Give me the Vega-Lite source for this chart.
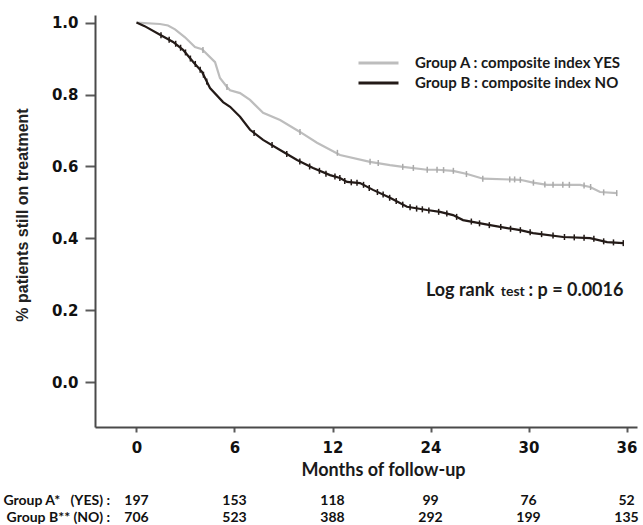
{
  "$schema": "https://vega.github.io/schema/vega-lite/v6.json",
  "width": 542,
  "height": 412,
  "autosize": {"type": "none"},
  "padding": {"left": 95, "top": 15, "right": 6, "bottom": 98},
  "background": "white",
  "config": {"view": {"stroke": null}},
  "datasets": {
    "curves": [
      {"g":"A","m":0,"s":1.0},{"g":"A","m":1.44,"s":0.996},{"g":"A","m":1.93,"s":0.992},{"g":"A","m":2.36,"s":0.981},{"g":"A","m":2.97,"s":0.959},{"g":"A","m":3.58,"s":0.932},{"g":"A","m":4.01,"s":0.926},{"g":"A","m":4.81,"s":0.89},{"g":"A","m":5.11,"s":0.846},{"g":"A","m":5.54,"s":0.821},{"g":"A","m":5.73,"s":0.812},{"g":"A","m":6.34,"s":0.804},{"g":"A","m":6.95,"s":0.785},{"g":"A","m":7.75,"s":0.749},{"g":"A","m":8.79,"s":0.729},{"g":"A","m":10.01,"s":0.696},{"g":"A","m":11.05,"s":0.666},{"g":"A","m":12.92,"s":0.632},{"g":"A","m":16.59,"s":0.613},{"g":"A","m":19.04,"s":0.604},{"g":"A","m":20.63,"s":0.599},{"g":"A","m":23.57,"s":0.591},{"g":"A","m":24.4,"s":0.591},{"g":"A","m":25.38,"s":0.588},{"g":"A","m":26.24,"s":0.579},{"g":"A","m":27.22,"s":0.566},{"g":"A","m":29.49,"s":0.563},{"g":"A","m":30.28,"s":0.555},{"g":"A","m":31.14,"s":0.549},{"g":"A","m":33.16,"s":0.549},{"g":"A","m":33.77,"s":0.543},{"g":"A","m":34.38,"s":0.529},{"g":"A","m":35.42,"s":0.526},
      {"g":"B","m":0,"s":1.0},{"g":"B","m":0.5,"s":0.99},{"g":"B","m":1.44,"s":0.966},{"g":"B","m":2.24,"s":0.946},{"g":"B","m":2.85,"s":0.924},{"g":"B","m":3.46,"s":0.891},{"g":"B","m":4.01,"s":0.863},{"g":"B","m":4.5,"s":0.818},{"g":"B","m":5.3,"s":0.779},{"g":"B","m":5.73,"s":0.766},{"g":"B","m":6.34,"s":0.738},{"g":"B","m":6.95,"s":0.702},{"g":"B","m":7.75,"s":0.674},{"g":"B","m":8.79,"s":0.646},{"g":"B","m":9.83,"s":0.618},{"g":"B","m":10.81,"s":0.596},{"g":"B","m":11.85,"s":0.576},{"g":"B","m":12.92,"s":0.568},{"g":"B","m":13.78,"s":0.557},{"g":"B","m":15.37,"s":0.554},{"g":"B","m":16.96,"s":0.535},{"g":"B","m":19.04,"s":0.513},{"g":"B","m":21.12,"s":0.488},{"g":"B","m":23.57,"s":0.479},{"g":"B","m":24.58,"s":0.474},{"g":"B","m":25.38,"s":0.465},{"g":"B","m":25.99,"s":0.451},{"g":"B","m":27.65,"s":0.437},{"g":"B","m":28.26,"s":0.432},{"g":"B","m":29.49,"s":0.423},{"g":"B","m":30.28,"s":0.415},{"g":"B","m":32.12,"s":0.404},{"g":"B","m":33.77,"s":0.401},{"g":"B","m":34.81,"s":0.39},{"g":"B","m":35.79,"s":0.387}
    ],
    "censor": [
      {"g":"A","m":4.07,"s":0.924},{"g":"A","m":5.54,"s":0.821},{"g":"A","m":10.01,"s":0.696},{"g":"A","m":12.6,"s":0.638},{"g":"A","m":16.6,"s":0.613},{"g":"A","m":17.6,"s":0.61},{"g":"A","m":20.6,"s":0.599},{"g":"A","m":21.9,"s":0.596},{"g":"A","m":23.6,"s":0.591},{"g":"A","m":24.4,"s":0.591},{"g":"A","m":24.8,"s":0.59},{"g":"A","m":25.4,"s":0.588},{"g":"A","m":26.2,"s":0.579},{"g":"A","m":27.2,"s":0.566},{"g":"A","m":28.85,"s":0.564},{"g":"A","m":29.15,"s":0.564},{"g":"A","m":29.5,"s":0.563},{"g":"A","m":30.3,"s":0.555},{"g":"A","m":31.0,"s":0.55},{"g":"A","m":31.5,"s":0.549},{"g":"A","m":32.1,"s":0.549},{"g":"A","m":32.5,"s":0.549},{"g":"A","m":33.4,"s":0.547},{"g":"A","m":33.8,"s":0.543},{"g":"A","m":34.6,"s":0.528},{"g":"A","m":35.4,"s":0.526},
      {"g":"B","m":1.5,"s":0.965},{"g":"B","m":2.0,"s":0.952},{"g":"B","m":2.4,"s":0.941},{"g":"B","m":2.7,"s":0.93},{"g":"B","m":3.0,"s":0.917},{"g":"B","m":3.3,"s":0.9},{"g":"B","m":3.6,"s":0.885},{"g":"B","m":3.9,"s":0.869},{"g":"B","m":4.1,"s":0.855},{"g":"B","m":4.3,"s":0.836},{"g":"B","m":7.2,"s":0.693},{"g":"B","m":8.3,"s":0.66},{"g":"B","m":9.2,"s":0.635},{"g":"B","m":10.0,"s":0.614},{"g":"B","m":10.6,"s":0.6},{"g":"B","m":11.2,"s":0.588},{"g":"B","m":11.6,"s":0.58},{"g":"B","m":12.3,"s":0.572},{"g":"B","m":12.9,"s":0.568},{"g":"B","m":13.5,"s":0.56},{"g":"B","m":14.3,"s":0.556},{"g":"B","m":15.0,"s":0.555},{"g":"B","m":15.8,"s":0.549},{"g":"B","m":16.5,"s":0.54},{"g":"B","m":17.5,"s":0.529},{"g":"B","m":18.2,"s":0.522},{"g":"B","m":19.0,"s":0.513},{"g":"B","m":19.8,"s":0.504},{"g":"B","m":20.6,"s":0.494},{"g":"B","m":21.5,"s":0.487},{"g":"B","m":22.3,"s":0.483},{"g":"B","m":23.0,"s":0.481},{"g":"B","m":23.8,"s":0.478},{"g":"B","m":24.5,"s":0.474},{"g":"B","m":25.0,"s":0.469},{"g":"B","m":25.6,"s":0.46},{"g":"B","m":26.5,"s":0.447},{"g":"B","m":27.0,"s":0.442},{"g":"B","m":27.6,"s":0.437},{"g":"B","m":28.3,"s":0.432},{"g":"B","m":28.9,"s":0.427},{"g":"B","m":29.5,"s":0.423},{"g":"B","m":30.1,"s":0.417},{"g":"B","m":30.8,"s":0.412},{"g":"B","m":31.5,"s":0.408},{"g":"B","m":32.2,"s":0.404},{"g":"B","m":32.8,"s":0.403},{"g":"B","m":33.4,"s":0.402},{"g":"B","m":34.0,"s":0.399},{"g":"B","m":34.6,"s":0.392},{"g":"B","m":35.2,"s":0.389},{"g":"B","m":35.8,"s":0.387}
    ],
    "risk": [
      {"g":"A","m":0,"n":197},{"g":"A","m":6,"n":153},{"g":"A","m":12,"n":118},{"g":"A","m":24,"n":99},{"g":"A","m":30,"n":76},{"g":"A","m":36,"n":52},
      {"g":"B","m":0,"n":706},{"g":"B","m":6,"n":523},{"g":"B","m":12,"n":388},{"g":"B","m":24,"n":292},{"g":"B","m":30,"n":199},{"g":"B","m":36,"n":135}
    ],
    "rowlabels": [
      {"g":"A","label":"Group A*\u00a0\u00a0\u00a0(YES) :"},
      {"g":"B","label":"Group B**\u00a0(NO) :"}
    ]
  },
  "layer": [
    {
      "layer": [
        {
          "data": {"name": "curves"},
          "mark": {"type": "line", "strokeWidth": 2.2, "interpolate": "linear"},
          "encoding": {
            "x": {"field": "m", "type": "quantitative",
              "scale": {"domain": [-2.54, 12, 24, 36.64], "range": [0, 237.5, 335.5, 542], "nice": false, "zero": false},
              "axis": {"values": [0, 6, 12, 24, 30, 36], "title": "Months of follow-up", "grid": false,
                "domainColor": "#4a4a4a", "domainWidth": 2, "tickColor": "#5a5a5a", "tickWidth": 2, "tickSize": 5,
                "labelFont": "DejaVu Sans", "labelFontWeight": "bold", "labelFontSize": 15, "labelColor": "#111111",
                "labelPadding": 8, "labelFlush": false,
                "titleFont": "Lato", "titleFontSize": 18, "titleFontWeight": "bold", "titleColor": "#1a1a1a",
                "titleX": 288, "titleY": 48, "titleBaseline": "alphabetic", "titleAlign": "center"}},
            "y": {"field": "s", "type": "quantitative",
              "scale": {"domain": [-0.124, 1.021], "nice": false, "zero": false},
              "axis": {"values": [0, 0.2, 0.4, 0.6, 0.8, 1.0], "format": ".1f", "title": "% patients still on treatment", "grid": false,
                "domainColor": "#4a4a4a", "domainWidth": 2, "tickColor": "#5a5a5a", "tickWidth": 2, "tickSize": 10,
                "labelFont": "DejaVu Sans", "labelFontWeight": "bold", "labelFontSize": 15, "labelColor": "#111111",
                "labelPadding": 7,
                "titleFont": "Liberation Sans", "titleFontSize": 16, "titleFontWeight": "bold", "titleColor": "#222222",
                "titleX": -73, "titleY": 199.5, "titleAngle": -90, "titleAlign": "center", "titleBaseline": "middle"}},
            "color": {"field": "g", "type": "nominal",
              "scale": {"domain": ["A", "B"], "range": ["#bdbdbd", "#231a17"]},
              "legend": {"orient": "none", "legendX": 262, "legendY": 38, "title": null,
                "symbolType": "stroke", "symbolSize": 1600, "symbolStrokeWidth": 3,
                "labelFont": "Lato", "labelFontSize": 15, "labelFontWeight": "bold", "labelColor": "#1a1a1a",
                "labelOffset": 15, "clipHeight": 20, "rowPadding": 0, "padding": 0, "labelLimit": 400,
                "labelExpr": "datum.label == 'A' ? 'Group A : composite index YES' : 'Group B : composite index NO'"}}
          }
        },
        {
          "data": {"name": "censor"},
          "mark": {"type": "point", "shape": "M0,-1V1", "filled": false, "size": 36, "strokeWidth": 1.5, "opacity": 1},
          "encoding": {
            "x": {"field": "m", "type": "quantitative", "title": "Months of follow-up",
              "scale": {"domain": [-2.54, 12, 24, 36.64], "range": [0, 237.5, 335.5, 542], "nice": false, "zero": false}},
            "y": {"field": "s", "type": "quantitative", "title": "% patients still on treatment",
              "scale": {"domain": [-0.124, 1.021], "nice": false, "zero": false}},
            "stroke": {"field": "g", "type": "nominal",
              "scale": {"domain": ["A", "B"], "range": ["#aaaaaa", "#231a17"]}, "legend": null}
          }
        },
        {
          "data": {"values": [{"t": "Log rank"}]},
          "mark": {"type": "text", "font": "Lato", "fontWeight": "bold", "fontSize": 18, "align": "left", "baseline": "alphabetic", "color": "#1a1a1a"},
          "encoding": {
            "x": {"datum": 23.44, "type": "quantitative"},
            "y": {"datum": 0.2408, "type": "quantitative"},
            "text": {"field": "t"}
          }
        },
        {
          "data": {"values": [{"t": "test"}]},
          "mark": {"type": "text", "font": "Lato", "fontWeight": "bold", "fontSize": 14, "align": "left", "baseline": "alphabetic", "color": "#1a1a1a"},
          "encoding": {
            "x": {"datum": 28.3, "type": "quantitative"},
            "y": {"datum": 0.2408, "type": "quantitative"},
            "text": {"field": "t"}
          }
        },
        {
          "data": {"values": [{"t": ": p = 0.0016"}]},
          "mark": {"type": "text", "font": "Lato", "fontWeight": "bold", "fontSize": 18, "align": "left", "baseline": "alphabetic", "color": "#1a1a1a"},
          "encoding": {
            "x": {"datum": 30.0, "type": "quantitative"},
            "y": {"datum": 0.2408, "type": "quantitative"},
            "text": {"field": "t"}
          }
        }
      ]
    },
    {
      "layer": [
        {
          "data": {"name": "risk"},
          "mark": {"type": "text", "font": "Lato", "fontWeight": "bold", "fontSize": 14, "align": "center", "baseline": "alphabetic", "color": "#111111"},
          "encoding": {
            "x": {"field": "m", "type": "quantitative", "title": "Months of follow-up",
              "scale": {"domain": [-2.54, 12, 24, 36.64], "range": [0, 237.5, 335.5, 542], "nice": false, "zero": false}},
            "y": {"field": "g", "type": "nominal", "scale": {"type": "point", "domain": ["A", "B"], "range": [489.5, 506.5], "padding": 0}, "axis": null},
            "text": {"field": "n", "type": "quantitative"}
          }
        },
        {
          "data": {"name": "rowlabels"},
          "mark": {"type": "text", "font": "Lato", "fontWeight": "bold", "fontSize": 14, "align": "right", "baseline": "alphabetic", "color": "#111111"},
          "encoding": {
            "x": {"datum": -1.62, "type": "quantitative"},
            "y": {"field": "g", "type": "nominal", "scale": {"type": "point", "domain": ["A", "B"], "range": [489.5, 506.5], "padding": 0}, "axis": null},
            "text": {"field": "label"}
          }
        }
      ]
    }
  ],
  "resolve": {"scale": {"y": "independent"}}
}
